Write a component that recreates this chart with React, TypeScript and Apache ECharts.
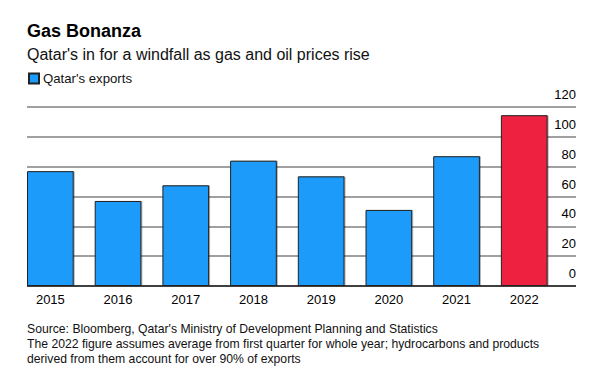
import React, { useEffect, useRef } from "react";
import * as echarts from "echarts";

const years = ["2015", "2016", "2017", "2018", "2019", "2020", "2021", "2022"];
const exportsValues = [77, 57, 67.5, 84, 73.5, 51, 87, 114.5];
const yTicks = { min: 0, max: 120, interval: 20 };
const titleText = "Gas Bonanza";
const subtitleText = "Qatar's in for a windfall as gas and oil prices rise";
const legendName = "Qatar's exports";
const footerLines = [
  "Source: Bloomberg, Qatar's Ministry of Development Planning and Statistics",
  "The 2022 figure assumes average from first quarter for whole year; hydrocarbons and products",
  "derived from them account for over 90% of exports",
];

const BLUE = "#1a9bfb";
const RED = "#ee2241";
const FONT = "Liberation Sans, Arial, sans-serif";

export default function App() {
  const ref = useRef<HTMLDivElement>(null);
  useEffect(() => {
    document.body.style.margin = "0";
    if (!ref.current) return;
    const chart = echarts.init(ref.current, null, { renderer: "svg" });
    const W = 605;
    const H = 374;
    const plotTop = 107;
    const plotBottom = 286;
    const lineLeft = 27;
    const lineRight = 576;
    const band = 67.7;
    const barsLeft = lineLeft - (band - 46.7) / 2;
    const barsRight = barsLeft + band * years.length;

    chart.setOption({
      animation: false,
      backgroundColor: "#ffffff",
      textStyle: { fontFamily: FONT },
      title: [
        {
          text: titleText,
          left: 27,
          top: 22,
          padding: 0,
          textStyle: { fontSize: 18, fontWeight: "bold", color: "#000", fontFamily: FONT },
        },
        {
          text: subtitleText,
          left: 27,
          top: 46,
          padding: 0,
          textStyle: { fontSize: 16, fontWeight: "normal", color: "#111", fontFamily: FONT },
        },
      ],
      legend: {
        left: 28,
        top: 72,
        padding: 0,
        itemWidth: 10,
        itemHeight: 10,
        itemGap: 4,
        icon: "rect",
        data: [legendName],
        textStyle: { fontSize: 13.2, color: "#111", fontFamily: FONT, padding: [0, 0, 0, -1] },
      },
      grid: [
        { left: lineLeft, right: W - lineRight, top: plotTop, bottom: H - plotBottom },
        { left: barsLeft, right: W - barsRight, top: plotTop, bottom: H - plotBottom },
      ],
      xAxis: [
        { type: "value", gridIndex: 0, show: false, min: 0, max: 1 },
        {
          type: "category",
          gridIndex: 1,
          data: years,
          axisLine: { show: false },
          axisTick: { show: false },
          axisLabel: { color: "#000", fontSize: 13, margin: 7, fontFamily: FONT },
        },
      ],
      yAxis: [
        {
          type: "value",
          gridIndex: 0,
          position: "right",
          min: yTicks.min,
          max: yTicks.max,
          interval: yTicks.interval,
          axisLine: { show: false },
          axisTick: { show: false },
          axisLabel: {
            inside: true,
            margin: 0,
            color: "#000",
            fontSize: 13,
            fontFamily: FONT,
            verticalAlign: "bottom",
            padding: [0, 0, 6, 0],
          },
          splitLine: {
            show: true,
            lineStyle: {
              color: ["#000", "#808080", "#808080", "#808080", "#808080", "#808080", "#808080"],
              width: 1.5,
            },
          },
        },
        { type: "value", gridIndex: 1, show: false, min: yTicks.min, max: yTicks.max },
      ],
      series: [
        {
          name: legendName,
          type: "bar",
          xAxisIndex: 1,
          yAxisIndex: 1,
          barWidth: 46.7,
          itemStyle: {
            color: BLUE,
            borderColor: "#222",
            borderWidth: 1,
            shadowColor: "rgba(0,0,0,0.3)",
            shadowBlur: 0,
            shadowOffsetX: 1,
            shadowOffsetY: 0,
          },
          data: exportsValues.map((v, i) =>
            i === years.length - 1 ? { value: v, itemStyle: { color: RED } } : v
          ),
        },
      ],
      graphic: footerLines.map((t, i) => ({
        type: "text",
        left: 27,
        top: 323 + i * 15,
        style: { text: t, fontSize: 12.2, fill: "#111", fontFamily: FONT },
      })),
    });
    return () => chart.dispose();
  }, []);
  return <div ref={ref} style={{ width: 605, height: 374 }} />;
}
